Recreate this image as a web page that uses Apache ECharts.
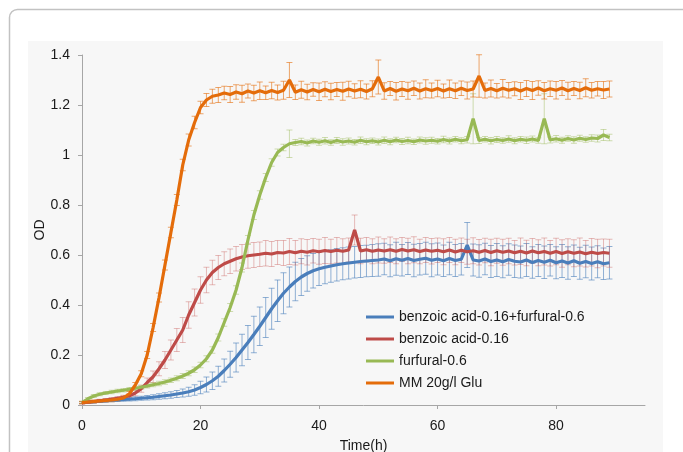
<!DOCTYPE html>
<html>
<head>
<meta charset="utf-8">
<script src="https://cdn.jsdelivr.net/npm/echarts@6/dist/echarts.min.js"></script>
<style>
  html, body { margin: 0; padding: 0; background: #fff; }
  #chart { width: 683px; height: 452px; }
</style>
</head>
<body>
<div id="chart"></div>
<script>
// sampling time (h)
const TIME = [
  0, 1, 2, 3, 4, 5, 6, 7, 8, 9,
  10, 11, 12, 13, 14, 15, 16, 17, 18, 19,
  20, 21, 22, 23, 24, 25, 26, 27, 28, 29,
  30, 31, 32, 33, 34, 35, 36, 37, 38, 39,
  40, 41, 42, 43, 44, 45, 46, 47, 48, 49,
  50, 51, 52, 53, 54, 55, 56, 57, 58, 59,
  60, 61, 62, 63, 64, 65, 66, 67, 68, 69,
  70, 71, 72, 73, 74, 75, 76, 77, 78, 79,
  80, 81, 82, 83, 84, 85, 86, 87, 88, 89
]

const NAMES = ['benzoic acid-0.16+furfural-0.6', 'benzoic acid-0.16', 'furfural-0.6', 'MM 20g/l Glu']
const COLORS = ['#4a7ebb', '#be4b48', '#98b954', '#e46c0a']
const ERR_COLORS = ['rgba(74,126,187,0.6)', 'rgba(200,90,88,0.4)', 'rgba(152,185,84,0.45)', 'rgba(228,108,10,0.6)']

// benzoic acid + furfural
const OD_BA_FUR = [
  0.010, 0.012, 0.013, 0.015, 0.017, 0.019, 0.020, 0.022, 0.023, 0.025,
  0.027, 0.029, 0.031, 0.034, 0.037, 0.040, 0.044, 0.048, 0.053, 0.060,
  0.070, 0.082, 0.097, 0.115, 0.138, 0.163, 0.190, 0.220, 0.250, 0.282,
  0.315, 0.350, 0.385, 0.417, 0.447, 0.472, 0.494, 0.512, 0.526, 0.537,
  0.545, 0.551, 0.556, 0.561, 0.565, 0.568, 0.571, 0.574, 0.576, 0.578,
  0.580, 0.584, 0.577, 0.585, 0.579, 0.586, 0.578, 0.583, 0.587, 0.579,
  0.584, 0.577, 0.586, 0.578, 0.583, 0.640, 0.580, 0.576, 0.584, 0.574,
  0.580, 0.573, 0.582, 0.575, 0.572, 0.580, 0.570, 0.578, 0.571, 0.579,
  0.569, 0.576, 0.568, 0.577, 0.567, 0.574, 0.566, 0.573, 0.565, 0.569
]
const ERR_BA_FUR = [
  0.004, 0.004, 0.005, 0.005, 0.006, 0.006, 0.006, 0.007, 0.007, 0.008,
  0.008, 0.009, 0.010, 0.011, 0.012, 0.013, 0.014, 0.016, 0.018, 0.021,
  0.025, 0.030, 0.035, 0.040, 0.046, 0.052, 0.058, 0.063, 0.068, 0.073,
  0.077, 0.080, 0.082, 0.083, 0.082, 0.080, 0.077, 0.074, 0.071, 0.069,
  0.067, 0.066, 0.065, 0.065, 0.064, 0.064, 0.063, 0.064, 0.063, 0.064,
  0.065, 0.063, 0.064, 0.066, 0.063, 0.064, 0.065, 0.063, 0.064, 0.066,
  0.064, 0.063, 0.065, 0.064, 0.063, 0.090, 0.064, 0.065, 0.063, 0.064,
  0.066, 0.064, 0.063, 0.065, 0.064, 0.066, 0.063, 0.064, 0.065, 0.063,
  0.064, 0.066, 0.065, 0.063, 0.064, 0.065, 0.066, 0.064, 0.063, 0.065
]

// benzoic acid
const OD_BA = [
  0.008, 0.011, 0.014, 0.017, 0.020, 0.023, 0.027, 0.031, 0.037, 0.048,
  0.065, 0.090, 0.113, 0.145, 0.180, 0.220, 0.260, 0.300, 0.360, 0.410,
  0.460, 0.500, 0.530, 0.550, 0.565, 0.575, 0.585, 0.592, 0.597, 0.600,
  0.603, 0.607, 0.604, 0.610, 0.608, 0.614, 0.609, 0.615, 0.611, 0.617,
  0.613, 0.618, 0.614, 0.619, 0.615, 0.620, 0.700, 0.616, 0.621, 0.615,
  0.620, 0.616, 0.621, 0.615, 0.622, 0.616, 0.621, 0.614, 0.620, 0.615,
  0.619, 0.613, 0.620, 0.612, 0.619, 0.613, 0.617, 0.611, 0.618, 0.610,
  0.617, 0.611, 0.616, 0.609, 0.615, 0.608, 0.616, 0.609, 0.614, 0.607,
  0.614, 0.606, 0.613, 0.607, 0.612, 0.605, 0.611, 0.606, 0.610, 0.607
]
const ERR_BA = [
  0.004, 0.005, 0.005, 0.006, 0.006, 0.007, 0.007, 0.008, 0.009, 0.011,
  0.014, 0.018, 0.023, 0.028, 0.034, 0.040, 0.046, 0.050, 0.053, 0.054,
  0.053, 0.051, 0.049, 0.048, 0.048, 0.049, 0.049, 0.050, 0.050, 0.050,
  0.049, 0.051, 0.050, 0.048, 0.050, 0.052, 0.049, 0.050, 0.051, 0.049,
  0.050, 0.052, 0.049, 0.051, 0.050, 0.048, 0.060, 0.051, 0.049, 0.050,
  0.052, 0.049, 0.051, 0.050, 0.048, 0.051, 0.052, 0.049, 0.050, 0.051,
  0.049, 0.052, 0.050, 0.051, 0.049, 0.050, 0.052, 0.051, 0.049, 0.053,
  0.050, 0.052, 0.051, 0.049, 0.053, 0.051, 0.050, 0.052, 0.054, 0.051,
  0.053, 0.055, 0.052, 0.054, 0.056, 0.053, 0.055, 0.057, 0.054, 0.056
]

// furfural
const OD_FUR = [
  0.010, 0.025, 0.036, 0.043, 0.048, 0.052, 0.056, 0.059, 0.063, 0.067,
  0.071, 0.076, 0.081, 0.086, 0.092, 0.099, 0.107, 0.116, 0.127, 0.141,
  0.160, 0.185, 0.220, 0.270, 0.330, 0.390, 0.460, 0.550, 0.660, 0.760,
  0.840, 0.910, 0.970, 1.010, 1.030, 1.045, 1.050, 1.054, 1.048, 1.056,
  1.051, 1.057, 1.050, 1.058, 1.052, 1.056, 1.051, 1.059, 1.053, 1.057,
  1.052, 1.059, 1.053, 1.060, 1.054, 1.058, 1.053, 1.060, 1.056, 1.059,
  1.055, 1.062, 1.056, 1.063, 1.057, 1.061, 1.145, 1.058, 1.063, 1.057,
  1.062, 1.058, 1.064, 1.057, 1.063, 1.059, 1.064, 1.058, 1.145, 1.060,
  1.065, 1.059, 1.066, 1.060, 1.067, 1.062, 1.068, 1.066, 1.080, 1.070
]
const ERR_FUR = [
  0.004, 0.005, 0.006, 0.006, 0.006, 0.007, 0.007, 0.007, 0.007, 0.008,
  0.008, 0.008, 0.008, 0.009, 0.009, 0.009, 0.010, 0.010, 0.010, 0.011,
  0.011, 0.012, 0.013, 0.014, 0.015, 0.016, 0.017, 0.018, 0.018, 0.018,
  0.017, 0.016, 0.015, 0.014, 0.013, 0.055, 0.012, 0.013, 0.012, 0.011,
  0.012, 0.013, 0.011, 0.012, 0.013, 0.012, 0.011, 0.013, 0.012, 0.011,
  0.012, 0.013, 0.012, 0.011, 0.012, 0.013, 0.011, 0.012, 0.013, 0.012,
  0.011, 0.013, 0.012, 0.011, 0.012, 0.013, 0.100, 0.012, 0.011, 0.013,
  0.012, 0.011, 0.013, 0.012, 0.011, 0.013, 0.012, 0.011, 0.100, 0.012,
  0.013, 0.012, 0.011, 0.013, 0.012, 0.011, 0.013, 0.014, 0.022, 0.013
]

// MM 20 g/l glucose control
const OD_MM = [
  0.010, 0.012, 0.014, 0.016, 0.018, 0.020, 0.023, 0.028, 0.045, 0.080,
  0.125, 0.200, 0.310, 0.430, 0.560, 0.690, 0.820, 0.960, 1.060, 1.130,
  1.190, 1.220, 1.235, 1.240, 1.248, 1.242, 1.252, 1.245, 1.256, 1.248,
  1.257, 1.249, 1.258, 1.250, 1.259, 1.300, 1.251, 1.261, 1.252, 1.262,
  1.253, 1.263, 1.254, 1.262, 1.255, 1.264, 1.256, 1.263, 1.254, 1.265,
  1.312, 1.256, 1.266, 1.255, 1.264, 1.257, 1.267, 1.256, 1.265, 1.258,
  1.266, 1.256, 1.265, 1.257, 1.267, 1.258, 1.264, 1.316, 1.258, 1.266,
  1.257, 1.267, 1.259, 1.265, 1.256, 1.266, 1.258, 1.268, 1.257, 1.265,
  1.259, 1.268, 1.257, 1.266, 1.258, 1.269, 1.259, 1.265, 1.260, 1.264
]
const ERR_MM = [
  0.005, 0.005, 0.006, 0.006, 0.006, 0.007, 0.007, 0.008, 0.009, 0.010,
  0.012, 0.014, 0.016, 0.018, 0.020, 0.021, 0.022, 0.023, 0.024, 0.025,
  0.025, 0.026, 0.028, 0.030, 0.027, 0.032, 0.029, 0.034, 0.028, 0.031,
  0.035, 0.027, 0.033, 0.030, 0.036, 0.070, 0.029, 0.034, 0.031, 0.027,
  0.035, 0.030, 0.033, 0.028, 0.036, 0.031, 0.029, 0.034, 0.030, 0.032,
  0.068, 0.033, 0.028, 0.035, 0.030, 0.034, 0.029, 0.032, 0.036, 0.030,
  0.033, 0.028, 0.035, 0.031, 0.029, 0.034, 0.032, 0.085, 0.030, 0.034,
  0.029, 0.035, 0.031, 0.028, 0.034, 0.032, 0.036, 0.029, 0.033, 0.031,
  0.035, 0.030, 0.034, 0.028, 0.033, 0.036, 0.031, 0.029, 0.034, 0.032
]

const MEANS = [OD_BA_FUR, OD_BA, OD_FUR, OD_MM]
const ERRS = [ERR_BA_FUR, ERR_BA, ERR_FUR, ERR_MM]

const X_TICKS = [0, 20, 40, 60, 80]

function errorSeries(idx) {
  const color = ERR_COLORS[idx]
  return {
    name: NAMES[idx] + ' err',
    type: 'custom',
    silent: true,
    data: TIME.map((t, i) => [t, MEANS[idx][i] - ERRS[idx][i], MEANS[idx][i] + ERRS[idx][i]]),
    encode: { x: 0, y: [1, 2] },
    renderItem: (params, api) => {
      const lo = api.coord([api.value(0), api.value(1)])
      const hi = api.coord([api.value(0), api.value(2)])
      const w = 3
      const style = { stroke: color, lineWidth: 1 }
      return {
        type: 'group',
        children: [
          { type: 'line', shape: { x1: lo[0], y1: lo[1], x2: hi[0], y2: hi[1] }, style },
          { type: 'line', shape: { x1: lo[0] - w, y1: lo[1], x2: lo[0] + w, y2: lo[1] }, style },
          { type: 'line', shape: { x1: hi[0] - w, y1: hi[1], x2: hi[0] + w, y2: hi[1] }, style },
        ],
      }
    },
  }
}

function lineSeries(idx) {
  return {
    name: NAMES[idx],
    type: 'line',
    data: TIME.map((t, i) => [t, MEANS[idx][i]]),
    symbol: 'none',
    lineStyle: { color: COLORS[idx], width: 3.2 },
    itemStyle: { color: COLORS[idx] },
  }
}

const series = []
for (let i = 0; i < 4; i++) {
  series.push(errorSeries(i))
  series.push(lineSeries(i))
}

const chart = echarts.init(document.getElementById('chart'), null, { renderer: 'canvas' })

chart.setOption({
  animation: false,
  backgroundColor: '#ffffff',
  textStyle: { fontFamily: 'Liberation Sans, Arial, sans-serif' },
  graphic: [
    {
      type: 'rect', z: -10, silent: true,
      shape: { x: 9.5, y: 9.5, width: 700, height: 480, r: 8 },
      style: { fill: '#ffffff', stroke: '#c2c2c2', lineWidth: 1.5 },
    },
    {
      type: 'rect', z: -9, silent: true,
      shape: { x: 28, y: 41, width: 635, height: 420 },
      style: { fill: '#f7f7f7' },
    },
  ],
  grid: { left: 82, right: 38, top: 55, bottom: 47, outerBoundsMode: 'none' },
  legend: {
    data: NAMES,
    orient: 'vertical',
    left: 361,
    top: 305,
    itemWidth: 28,
    itemHeight: 3,
    itemGap: 8,
    icon: 'rect',
    textStyle: { fontSize: 14, color: '#1a1a1a', lineHeight: 14 },
  },
  xAxis: {
    type: 'value',
    min: 0,
    max: 95,
    interval: 20,
    name: 'Time(h)',
    nameLocation: 'middle',
    nameGap: 34,
    nameMoveOverlap: false,
    nameTextStyle: { fontSize: 14, color: '#1a1a1a' },
    splitLine: { show: false },
    axisLine: { lineStyle: { color: '#a6a6a6', width: 1 } },
    axisTick: { show: true, length: 4, customValues: X_TICKS, lineStyle: { color: '#a6a6a6' } },
    axisLabel: { fontSize: 14, color: '#1a1a1a', margin: 14, customValues: X_TICKS },
  },
  yAxis: {
    type: 'value',
    min: 0,
    max: 1.4,
    interval: 0.2,
    name: 'OD',
    nameLocation: 'middle',
    nameGap: 35,
    nameMoveOverlap: false,
    nameRotate: 90,
    nameTextStyle: { fontSize: 14, color: '#1a1a1a' },
    splitLine: { show: false },
    axisLine: { show: true, lineStyle: { color: '#a6a6a6', width: 1 } },
    axisTick: { show: true, length: 4, lineStyle: { color: '#a6a6a6' } },
    axisLabel: { fontSize: 14, color: '#1a1a1a', margin: 12 },
  },
  series: series,
})
</script>
</body>
</html>
